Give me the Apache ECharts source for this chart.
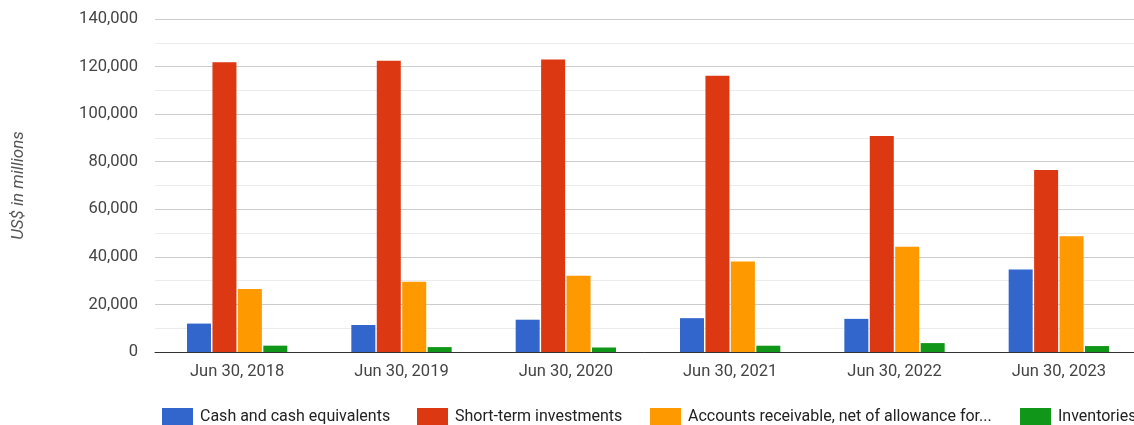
<!DOCTYPE html>
<html><head><meta charset="utf-8">
<script src="https://cdn.jsdelivr.net/npm/echarts@6/dist/echarts.min.js"></script>
<style>html,body{margin:0;padding:0;background:#fff}#c{width:1134px;height:425px}</style>
</head><body><div id="c"></div>
<script>
const categories = ['Jun 30, 2018','Jun 30, 2019','Jun 30, 2020','Jun 30, 2021','Jun 30, 2022','Jun 30, 2023'];
const seriesNames = ['Cash and cash equivalents','Short-term investments','Accounts receivable, net of allowance for...','Inventories'];
const cash = [11946, 11356, 13576, 14224, 13931, 34704];
const shortTerm = [121822, 122463, 122951, 116110, 90826, 76558];
const receivable = [26481, 29524, 32011, 38043, 44261, 48688];
const inventories = [2662, 2063, 1895, 2636, 3742, 2500];
const colors = ['#3366cc','#dc3912','#ff9900','#109618'];
const legendLeft = [162, 417, 650, 1020];

const values = [cash, shortTerm, receivable, inventories];
const chart = echarts.init(document.getElementById('c'));
const font = 'Roboto, "Noto Sans", sans-serif';
chart.setOption({
  animation: false,
  color: colors,
  grid: {left: 155, top: 19, width: 986, height: 333, outerBoundsMode: 'none', containLabel: false},
  legend: seriesNames.map((n, i) => ({
    data: [n], left: legendLeft[i], top: 408, itemWidth: 31, itemHeight: 18,
    icon: 'rect', itemGap: 8, padding: 0,
    textStyle: {fontFamily: font, fontSize: 16, color: '#222', padding: [0, 0, 0, 2]}
  })),
  xAxis: {
    type: 'category', data: categories,
    axisLine: {lineStyle: {color: '#333', width: 1}},
    axisTick: {show: false},
    axisLabel: {fontFamily: font, fontSize: 16.5, color: '#444', margin: 11}
  },
  yAxis: {
    type: 'value', min: 0, max: 140000, interval: 20000,
    name: 'US$ in millions', nameLocation: 'middle', nameGap: 128, nameRotate: 90,
    nameTextStyle: {fontFamily: font, fontSize: 17, color: '#555', fontStyle: 'italic'},
    axisLine: {show: false}, axisTick: {show: false},
    axisLabel: {fontFamily: font, fontSize: 16.5, color: '#444', margin: 17,
      formatter: v => v.toLocaleString('en-US')},
    splitLine: {lineStyle: {color: '#cccccc'}},
    minorTick: {show: false, splitNumber: 2},
    minorSplitLine: {show: true, lineStyle: {color: '#ebebeb'}}
  },
  series: seriesNames.map((n, i) => ({
    name: n, type: 'bar', data: values[i], barWidth: 24, barGap: '6%'
  }))
});
</script></body></html>
